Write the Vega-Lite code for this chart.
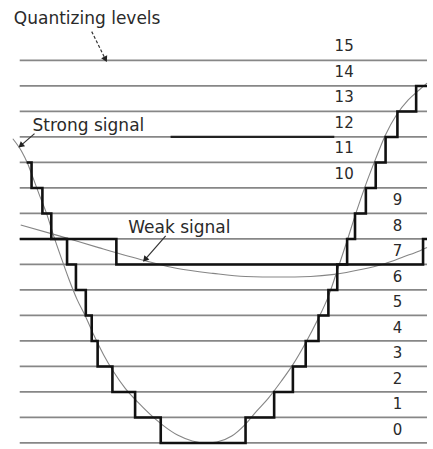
{
  "$schema": "https://vega.github.io/schema/vega-lite/v6.json",
  "width": 433,
  "height": 449,
  "padding": 0,
  "autosize": {"type": "fit", "contains": "padding"},
  "background": "white",
  "config": {"view": {"stroke": null}},
  "datasets": {
    "levels": [
      {"level": 0}, {"level": 1}, {"level": 2}, {"level": 3}, {"level": 4}, {"level": 5},
      {"level": 6}, {"level": 7}, {"level": 8}, {"level": 9}, {"level": 10}, {"level": 11},
      {"level": 12}, {"level": 13}, {"level": 14}, {"level": 15}
    ],
    "highlight": [{"level": 12, "from": 173, "to": 339}],
    "strong": [
      {"x": 13, "v": 11.93}, {"x": 22, "v": 11.43}, {"x": 28, "v": 10.96}, {"x": 33, "v": 10.45},
      {"x": 40, "v": 9.72}, {"x": 47, "v": 9.02}, {"x": 55, "v": 8.05}, {"x": 62, "v": 7.27},
      {"x": 70, "v": 6.41}, {"x": 78, "v": 5.64}, {"x": 87, "v": 4.94}, {"x": 95, "v": 4.24},
      {"x": 105, "v": 3.46}, {"x": 115, "v": 2.8}, {"x": 127, "v": 2.14}, {"x": 140, "v": 1.59},
      {"x": 152, "v": 1.13}, {"x": 165, "v": 0.7}, {"x": 180, "v": 0.31}, {"x": 195, "v": 0.08},
      {"x": 208, "v": 0.0}, {"x": 220, "v": 0.04}, {"x": 235, "v": 0.27}, {"x": 248, "v": 0.7},
      {"x": 260, "v": 1.24}, {"x": 272, "v": 1.75}, {"x": 285, "v": 2.41}, {"x": 297, "v": 3.07},
      {"x": 310, "v": 3.93}, {"x": 322, "v": 4.82}, {"x": 333, "v": 5.75}, {"x": 343, "v": 6.88},
      {"x": 352, "v": 7.93}, {"x": 361, "v": 9.02}, {"x": 371, "v": 10.14}, {"x": 381, "v": 11.15},
      {"x": 391, "v": 12.09}, {"x": 402, "v": 12.86}, {"x": 414, "v": 13.45}, {"x": 425, "v": 13.84},
      {"x": 433, "v": 14.11}
    ],
    "weak": [
      {"x": 21, "v": 8.55}, {"x": 60, "v": 8.12}, {"x": 100, "v": 7.66}, {"x": 147, "v": 7.15},
      {"x": 180, "v": 6.84}, {"x": 216, "v": 6.65}, {"x": 249, "v": 6.53}, {"x": 283, "v": 6.51},
      {"x": 315, "v": 6.53}, {"x": 339, "v": 6.61}, {"x": 366, "v": 6.8}, {"x": 390, "v": 7.03},
      {"x": 410, "v": 7.31}, {"x": 426, "v": 7.54}, {"x": 433, "v": 7.66}
    ],
    "strongSteps": [
      {"x": 27, "q": 11}, {"x": 32, "q": 10}, {"x": 43, "q": 9}, {"x": 52, "q": 8},
      {"x": 68, "q": 7}, {"x": 77, "q": 6}, {"x": 87, "q": 5}, {"x": 93, "q": 4},
      {"x": 99, "q": 3}, {"x": 114, "q": 2}, {"x": 137, "q": 1}, {"x": 163, "q": 0},
      {"x": 249, "q": 1}, {"x": 278, "q": 2}, {"x": 297, "q": 3}, {"x": 310, "q": 4},
      {"x": 323, "q": 5}, {"x": 333, "q": 6}, {"x": 342, "q": 7}, {"x": 352, "q": 8},
      {"x": 360, "q": 9}, {"x": 371, "q": 10}, {"x": 381, "q": 11}, {"x": 391, "q": 12},
      {"x": 403, "q": 13}, {"x": 422, "q": 14}, {"x": 433, "q": 14}
    ],
    "weakSteps": [
      {"x": 20, "q": 8}, {"x": 118, "q": 7}, {"x": 429, "q": 8}, {"x": 433, "q": 8}
    ],
    "notes": [
      {"text": "Quantizing levels", "x": 14, "v": 16.44},
      {"text": "Strong signal", "x": 33, "v": 12.24},
      {"text": "Weak signal", "x": 130, "v": 8.24}
    ],
    "arrows": [
      {"name": "Quantizing levels", "x": 93, "v": 16.13, "x2": 107, "v2": 15.04},
      {"name": "Strong signal", "x": 35, "v": 12.13, "x2": 21, "v2": 11.66},
      {"name": "Weak signal", "x": 168, "v": 8.12, "x2": 147, "v2": 7.19}
    ]
  },
  "layer": [
    {
      "data": {"name": "levels"},
      "mark": {"type": "rule", "color": "#878787", "strokeWidth": 1.8},
      "encoding": {
        "x": {"datum": 20, "type": "quantitative", "scale": {"domain": [0, 433], "nice": false, "zero": false}, "axis": null},
        "x2": {"datum": 433},
        "y": {"field": "level", "type": "quantitative", "scale": {"domain": [-0.08, 17.37], "nice": false, "zero": false}, "axis": null}
      }
    },
    {
      "data": {"name": "highlight"},
      "mark": {"type": "rule", "color": "#222", "strokeWidth": 2.2},
      "encoding": {
        "x": {"field": "from", "type": "quantitative"},
        "x2": {"field": "to"},
        "y": {"field": "level", "type": "quantitative"}
      }
    },
    {
      "data": {"name": "strong"},
      "mark": {"type": "line", "color": "#858585", "strokeWidth": 1.1, "interpolate": "monotone"},
      "encoding": {
        "x": {"field": "x", "type": "quantitative"},
        "y": {"field": "v", "type": "quantitative"}
      }
    },
    {
      "data": {"name": "weak"},
      "mark": {"type": "line", "color": "#858585", "strokeWidth": 1.1, "interpolate": "monotone"},
      "encoding": {
        "x": {"field": "x", "type": "quantitative"},
        "y": {"field": "v", "type": "quantitative"}
      }
    },
    {
      "data": {"name": "strongSteps"},
      "mark": {"type": "line", "color": "#111", "strokeWidth": 2.6, "interpolate": "step-after"},
      "encoding": {
        "x": {"field": "x", "type": "quantitative"},
        "y": {"field": "q", "type": "quantitative"}
      }
    },
    {
      "data": {"name": "weakSteps"},
      "mark": {"type": "line", "color": "#111", "strokeWidth": 2.6, "interpolate": "step-after"},
      "encoding": {
        "x": {"field": "x", "type": "quantitative"},
        "y": {"field": "q", "type": "quantitative"}
      }
    },
    {
      "data": {"name": "levels"},
      "transform": [{"filter": "datum.level >= 10"}],
      "mark": {"type": "text", "font": "DejaVu Sans", "fontSize": 15, "color": "#2a2a2a", "align": "center", "baseline": "middle", "dy": -14},
      "encoding": {
        "x": {"datum": 349},
        "y": {"field": "level", "type": "quantitative"},
        "text": {"field": "level", "type": "nominal"}
      }
    },
    {
      "data": {"name": "levels"},
      "transform": [{"filter": "datum.level < 10"}],
      "mark": {"type": "text", "font": "DejaVu Sans", "fontSize": 15, "color": "#2a2a2a", "align": "center", "baseline": "middle", "dy": -13},
      "encoding": {
        "x": {"datum": 403},
        "y": {"field": "level", "type": "quantitative"},
        "text": {"field": "level", "type": "nominal"}
      }
    },
    {
      "data": {"name": "notes"},
      "mark": {"type": "text", "font": "DejaVu Sans", "fontSize": 17, "color": "#2a2a2a", "align": "left", "baseline": "alphabetic"},
      "encoding": {
        "x": {"field": "x", "type": "quantitative"},
        "y": {"field": "v", "type": "quantitative"},
        "text": {"field": "text", "type": "nominal"}
      }
    },
    {
      "data": {"name": "arrows"},
      "transform": [{"filter": "datum.name == 'Quantizing levels'"}],
      "mark": {"type": "rule", "color": "#333", "strokeWidth": 1.2, "strokeDash": [3, 2]},
      "encoding": {
        "x": {"field": "x", "type": "quantitative"},
        "y": {"field": "v", "type": "quantitative"},
        "x2": {"field": "x2"},
        "y2": {"field": "v2"}
      }
    },
    {
      "data": {"name": "arrows"},
      "transform": [{"filter": "datum.name != 'Quantizing levels'"}],
      "mark": {"type": "rule", "color": "#333", "strokeWidth": 1.2},
      "encoding": {
        "x": {"field": "x", "type": "quantitative"},
        "y": {"field": "v", "type": "quantitative"},
        "x2": {"field": "x2"},
        "y2": {"field": "v2"}
      }
    },
    {
      "data": {"name": "arrows"},
      "transform": [{"filter": "datum.name == 'Quantizing levels'"}],
      "mark": {"type": "point", "shape": "triangle-up", "filled": true, "color": "#222", "size": 45, "angle": 153, "opacity": 1},
      "encoding": {
        "x": {"field": "x2", "type": "quantitative"},
        "y": {"field": "v2", "type": "quantitative"}
      }
    },
    {
      "data": {"name": "arrows"},
      "transform": [{"filter": "datum.name == 'Strong signal'"}],
      "mark": {"type": "point", "shape": "triangle-up", "filled": true, "color": "#222", "size": 45, "angle": 230, "opacity": 1},
      "encoding": {
        "x": {"field": "x2", "type": "quantitative"},
        "y": {"field": "v2", "type": "quantitative"}
      }
    },
    {
      "data": {"name": "arrows"},
      "transform": [{"filter": "datum.name == 'Weak signal'"}],
      "mark": {"type": "point", "shape": "triangle-up", "filled": true, "color": "#222", "size": 45, "angle": 221, "opacity": 1},
      "encoding": {
        "x": {"field": "x2", "type": "quantitative"},
        "y": {"field": "v2", "type": "quantitative"}
      }
    }
  ]
}
